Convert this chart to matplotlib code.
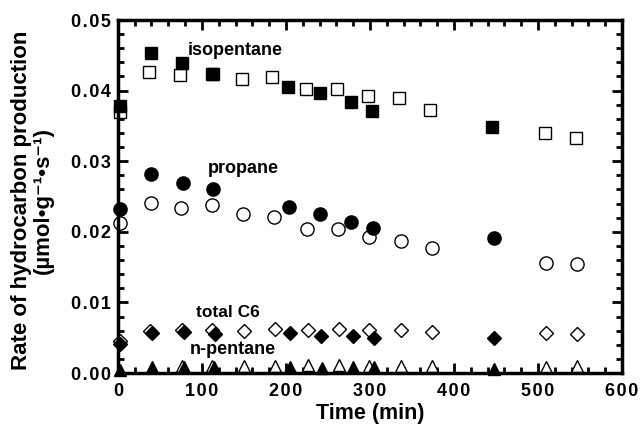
import matplotlib.pyplot as plt

plt.rcParams['font.family'] = ['Liberation Sans', 'DejaVu Sans']
plt.rcParams['font.weight'] = 'bold'

# isopentane
iso_t_fill = [2, 39, 76, 113, 202, 240, 277, 303, 445]
iso_v_fill = [0.0378, 0.0453, 0.0439, 0.0424, 0.0405, 0.0397, 0.0384, 0.0371, 0.0348]
iso_t_open = [2, 37, 74, 112, 148, 184, 224, 261, 298, 334, 372, 508, 545]
iso_v_open = [0.0370, 0.0427, 0.0422, 0.0424, 0.0416, 0.0419, 0.0403, 0.0402, 0.0393, 0.0389, 0.0373, 0.0340, 0.0333]

# propane
pro_t_fill = [3, 40, 77, 113, 204, 241, 278, 304, 447]
pro_v_fill = [0.0232, 0.0282, 0.0269, 0.0261, 0.0235, 0.0225, 0.0214, 0.0206, 0.0191]
pro_t_open = [3, 39, 75, 112, 149, 186, 225, 262, 299, 337, 374, 510, 546]
pro_v_open = [0.0213, 0.0241, 0.0234, 0.0238, 0.0225, 0.0221, 0.0204, 0.0204, 0.0193, 0.0187, 0.0177, 0.0156, 0.0154]

# total C6
c6_t_fill = [3, 41, 79, 115, 205, 242, 280, 305, 448]
c6_v_fill = [0.0041, 0.0057, 0.0058, 0.0055, 0.0056, 0.0052, 0.0052, 0.0050, 0.0049]
c6_t_open = [3, 38, 76, 112, 150, 187, 226, 263, 299, 337, 374, 510, 546]
c6_v_open = [0.0046, 0.0059, 0.0061, 0.0061, 0.0059, 0.0062, 0.0061, 0.0063, 0.0061, 0.0061, 0.0058, 0.0056, 0.0055]

# n-pentane
np_t_fill = [3, 41, 79, 114, 205, 243, 280, 305, 448]
np_v_fill = [0.0004, 0.0009, 0.0009, 0.0009, 0.0008, 0.0007, 0.0008, 0.0008, 0.0006]
np_t_open = [76, 112, 150, 187, 226, 263, 299, 337, 374, 510, 546]
np_v_open = [0.0010, 0.0010, 0.0010, 0.0010, 0.0011, 0.0011, 0.0010, 0.0010, 0.0010, 0.0009, 0.0010]

x_ticks = [0, 100, 200, 300, 400, 500, 600]
y_ticks = [0.0, 0.01, 0.02, 0.03, 0.04, 0.05]

fig = plt.figure(figsize=(6.44, 4.26), dpi=100)
ax = fig.add_axes([0.183, 0.1244, 0.783, 0.8286])

def pts(t, v, m, ms, filled):
    ax.plot(t, v, linestyle='none', marker=m, markersize=ms,
            markerfacecolor='black' if filled else 'white',
            markeredgecolor='black', markeredgewidth=1.0, clip_on=False)

pts(iso_t_open, iso_v_open, 's', 8.5, False)
pts(iso_t_fill, iso_v_fill, 's', 8.5, True)
pts(pro_t_open, pro_v_open, 'o', 9.5, False)
pts(pro_t_fill, pro_v_fill, 'o', 9.5, True)
pts(c6_t_open, c6_v_open, 'D', 7, False)
pts(c6_t_fill, c6_v_fill, 'D', 7.5, True)
pts(np_t_open, np_v_open, '^', 9, False)
pts(np_t_fill, np_v_fill, '^', 9, True)

ax.text(83, 0.0457, 'isopentane', fontsize=13, fontweight='bold', va='center')
ax.text(107, 0.0289, 'propane', fontsize=13, fontweight='bold', va='center')
ax.text(93, 0.0086, 'total C6', fontsize=12.5, fontweight='bold', va='center')
ax.text(85, 0.0033, 'n-pentane', fontsize=13, fontweight='bold', va='center')

# spaced-out digits like the original typesetting
def spaced(s):
    return '\u200a'.join(s)

ax.set_xlim(0, 600)
ax.set_ylim(0, 0.05)
ax.set_xticks(x_ticks)
ax.set_xticks(range(0, 601, 20), minor=True)
ax.set_yticks(y_ticks)
ax.set_yticks([i * 0.002 for i in range(26)], minor=True)
ax.set_xticklabels([spaced(str(t)) for t in x_ticks])
ax.set_yticklabels([spaced(f'{v:.2f}') for v in y_ticks])

for s in ax.spines.values():
    s.set_linewidth(2.5)
ax.tick_params(which='both', direction='in', top=True, right=True, width=2)
ax.tick_params(which='major', length=7, labelsize=13)
ax.tick_params(axis='x', which='major', pad=7)
ax.tick_params(axis='y', which='major', pad=5)
ax.tick_params(which='minor', length=4)
for lab in ax.get_xticklabels() + ax.get_yticklabels():
    lab.set_fontweight('bold')

ax.set_xlabel('Time (min)', fontsize=15.5, fontweight='bold', labelpad=2)
ax.set_ylabel('Rate of hydrocarbon production\n(µmol•g⁻¹•s⁻¹)', fontsize=16,
              fontweight='bold', linespacing=1.05, va='center')
ax.yaxis.set_label_coords(-0.17, 0.49)

fig.savefig('out.png', dpi=100)
